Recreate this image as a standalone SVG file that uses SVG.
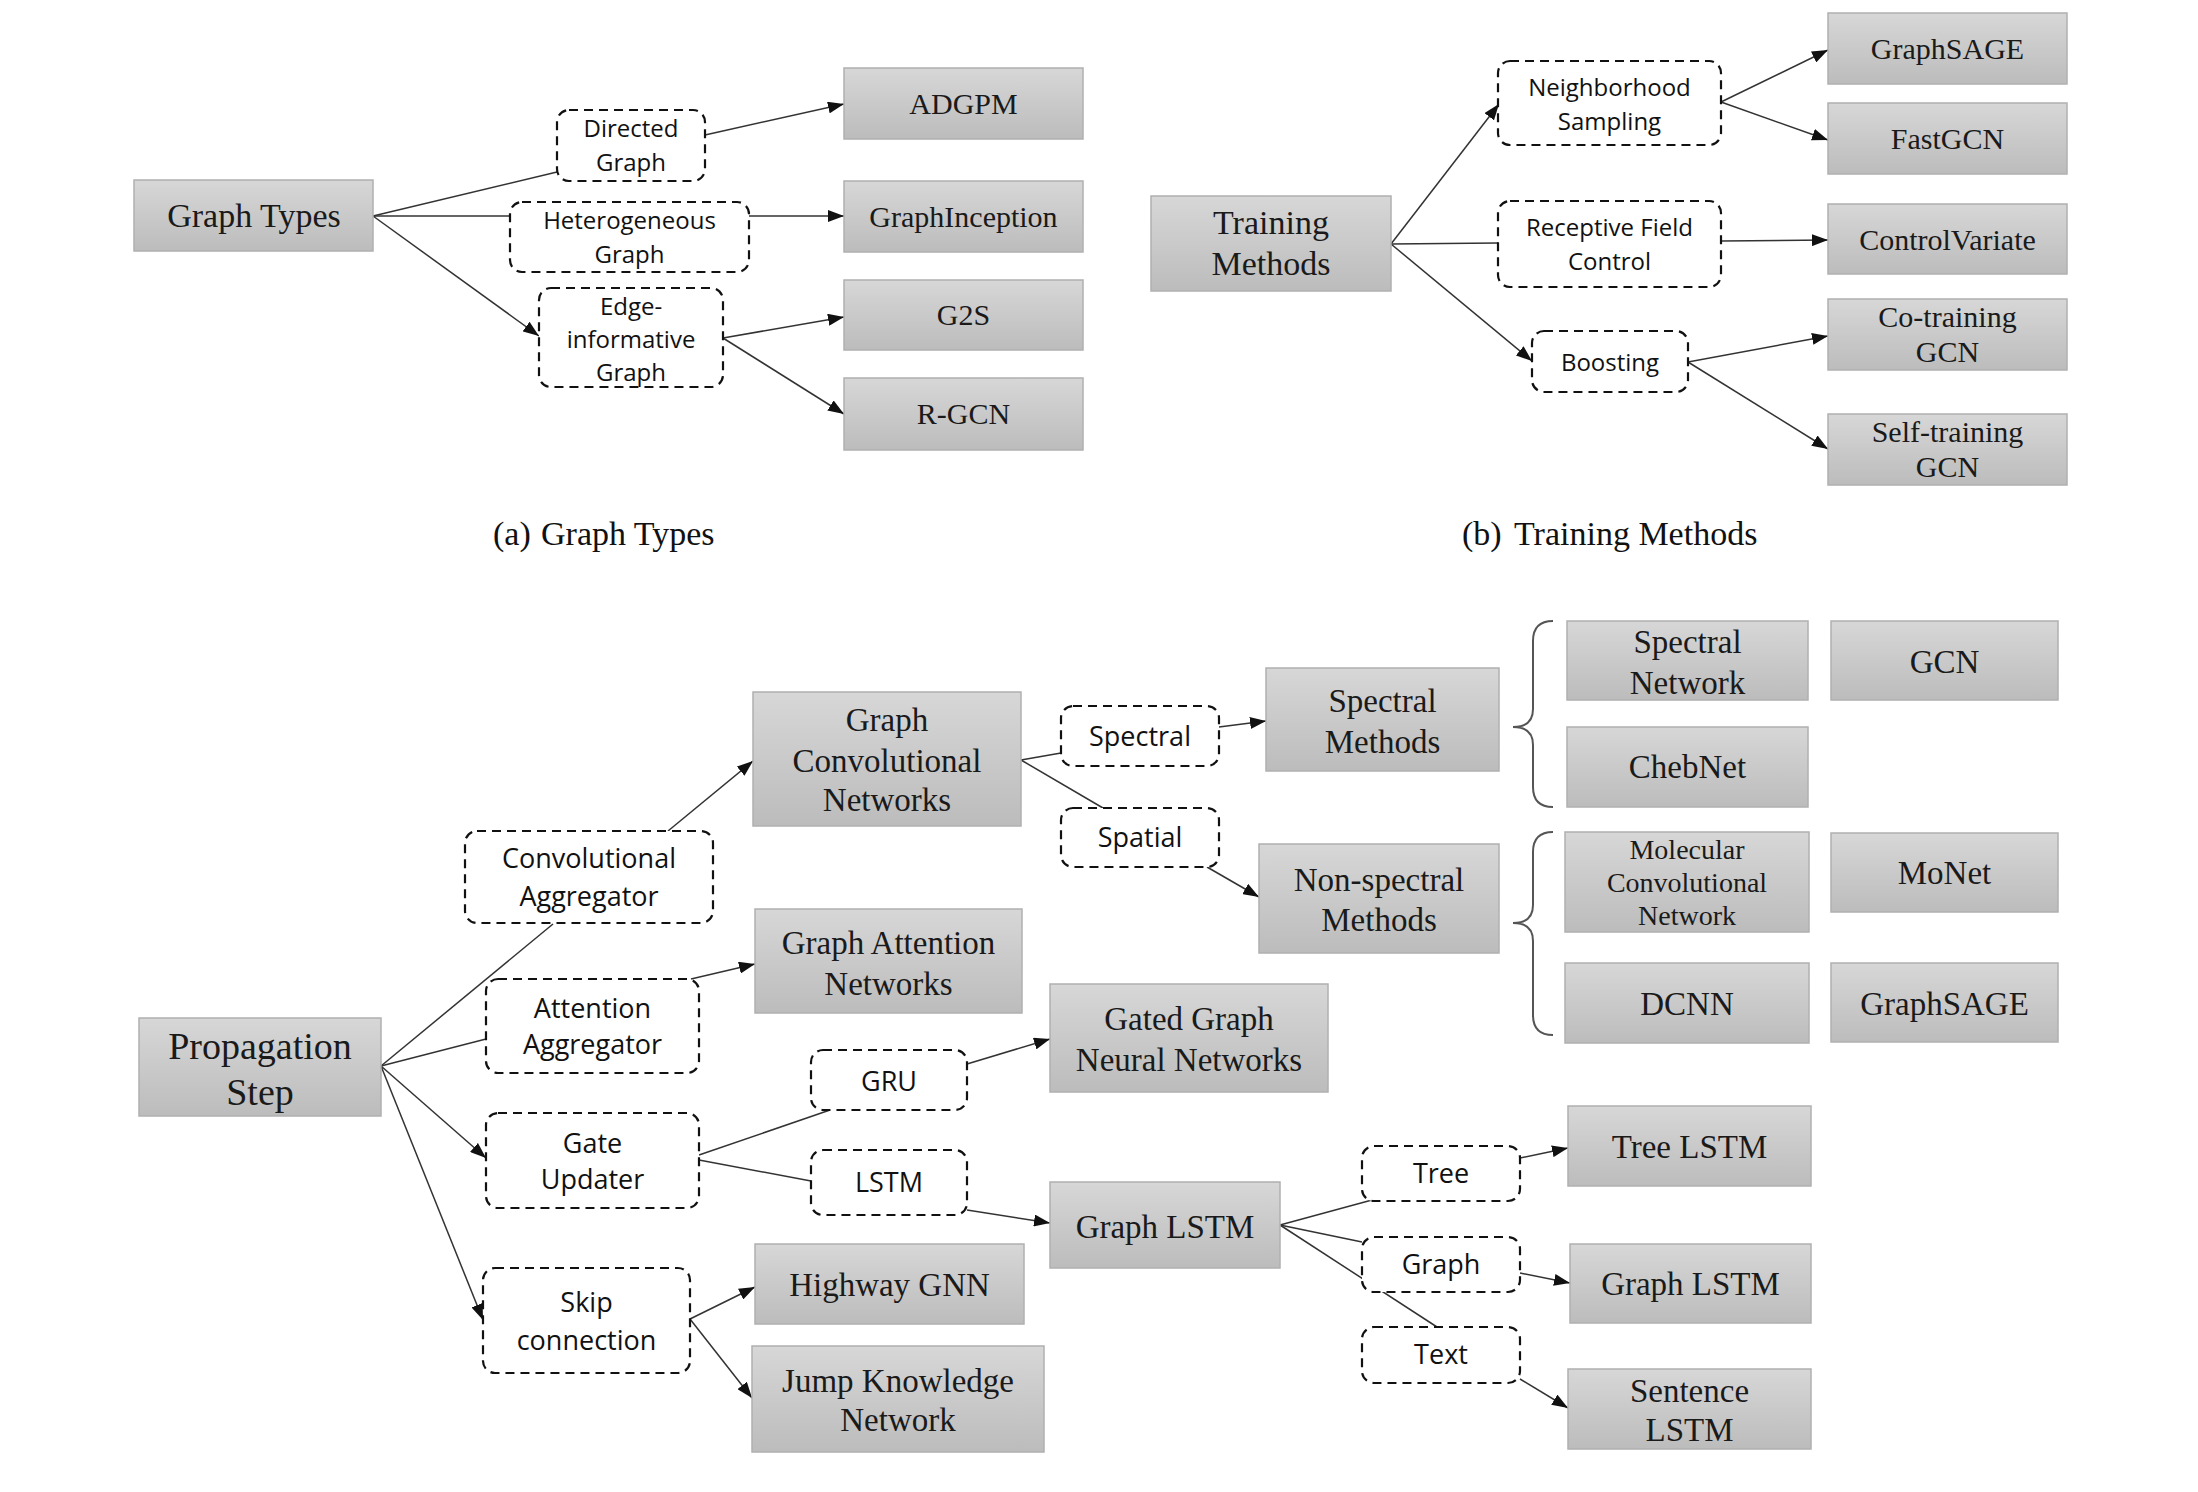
<svg xmlns="http://www.w3.org/2000/svg" width="2198" height="1492" viewBox="0 0 2198 1492">
<defs>
<linearGradient id="gg" x1="0" y1="0" x2="0" y2="1">
<stop offset="0" stop-color="#d7d7d7"/>
<stop offset="1" stop-color="#bcbcbc"/>
</linearGradient>
<marker id="ah" viewBox="0 0 16 12" refX="16" refY="6" markerWidth="16" markerHeight="12" markerUnits="userSpaceOnUse" orient="auto">
<path d="M0,0 L16,6 L0,12 z" fill="#111"/>
</marker>
</defs>
<style>
.g{fill:url(#gg);stroke:#b0b0b0;stroke-width:1.5}
.d{fill:#fff;stroke:#111;stroke-width:2.2;stroke-dasharray:9 6}
.s{font-family:"Liberation Serif","Times New Roman",serif;fill:#1a1a1a;text-anchor:middle}
.t{font-family:"Open Sans","Liberation Sans",sans-serif;fill:#111;text-anchor:middle}
.c{stroke:#333;stroke-width:1.5;fill:none}
.a{stroke:#333;stroke-width:1.5;fill:none;marker-end:url(#ah)}
.br{stroke:#555;stroke-width:2;fill:none}
.cap{font-family:"Liberation Serif","Times New Roman",serif;fill:#111;font-size:34px}
</style>
<rect width="2198" height="1492" fill="#fff"/>

<g id="connectors">
<!-- panel a -->
<line class="c" x1="373" y1="216" x2="557" y2="172"/>
<line class="a" x1="705" y1="135" x2="844" y2="104"/>
<line class="c" x1="373" y1="216" x2="510" y2="216"/>
<line class="a" x1="749" y1="216" x2="844" y2="216"/>
<line class="a" x1="373" y1="216" x2="539" y2="336"/>
<line class="a" x1="723" y1="338" x2="844" y2="317"/>
<line class="a" x1="723" y1="338" x2="844" y2="414"/>
<!-- panel b -->
<line class="a" x1="1391" y1="244" x2="1499" y2="104"/>
<line class="c" x1="1391" y1="244" x2="1498" y2="243"/>
<line class="a" x1="1391" y1="244" x2="1532" y2="361"/>
<line class="a" x1="1721" y1="102" x2="1828" y2="50"/>
<line class="a" x1="1721" y1="102" x2="1828" y2="140"/>
<line class="a" x1="1721" y1="241" x2="1828" y2="240"/>
<line class="a" x1="1688" y1="362" x2="1828" y2="336"/>
<line class="a" x1="1688" y1="362" x2="1828" y2="449"/>
<!-- bottom -->
<line class="c" x1="381" y1="1066" x2="553" y2="924"/>
<line class="a" x1="668" y1="831" x2="753" y2="761"/>
<line class="c" x1="381" y1="1066" x2="486" y2="1039"/>
<line class="a" x1="691" y1="979" x2="755" y2="964"/>
<line class="a" x1="381" y1="1066" x2="486" y2="1158"/>
<line class="a" x1="381" y1="1066" x2="483" y2="1320"/>
<line class="c" x1="699" y1="1155" x2="830" y2="1110"/>
<line class="c" x1="699" y1="1160" x2="811" y2="1181"/>
<line class="a" x1="967" y1="1064" x2="1050" y2="1039"/>
<line class="a" x1="967" y1="1210" x2="1050" y2="1223"/>
<line class="c" x1="1021" y1="760" x2="1061" y2="753"/>
<line class="c" x1="1021" y1="760" x2="1103" y2="808"/>
<line class="a" x1="1219" y1="727" x2="1266" y2="721"/>
<line class="a" x1="1207" y1="867" x2="1259" y2="897"/>
<line class="c" x1="1280" y1="1225" x2="1372" y2="1200"/>
<line class="c" x1="1280" y1="1225" x2="1362" y2="1242"/>
<line class="c" x1="1280" y1="1225" x2="1437" y2="1327"/>
<line class="a" x1="1520" y1="1158" x2="1568" y2="1148"/>
<line class="a" x1="1520" y1="1273" x2="1570" y2="1283"/>
<line class="a" x1="1520" y1="1379" x2="1568" y2="1408"/>
<line class="a" x1="690" y1="1319" x2="755" y2="1287"/>
<line class="a" x1="690" y1="1319" x2="752" y2="1398"/>
<!-- braces -->
<path class="br" d="M1553 621 Q1533 621 1533 641 L1533 709 Q1533 727 1513 727 Q1533 727 1533 745 L1533 787 Q1533 807 1553 807"/>
<path class="br" d="M1553 832 Q1533 832 1533 852 L1533 905 Q1533 923 1513 923 Q1533 923 1533 941 L1533 1015 Q1533 1035 1553 1035"/>
</g>

<!-- panel a nodes -->
<g id="graph-types"><rect class="g" x="134" y="180" width="239" height="71"/><text class="s" font-size="34" x="254" y="227">Graph Types</text></g>
<g id="directed-graph"><rect class="d" x="557" y="110" width="148" height="71" rx="12"/><text class="t" font-size="24" x="631" y="137">Directed</text><text class="t" font-size="24" x="631" y="171">Graph</text></g>
<g id="heterogeneous-graph"><rect class="d" x="510" y="202" width="239" height="70" rx="12"/><text class="t" font-size="24" x="629.5" y="229">Heterogeneous</text><text class="t" font-size="24" x="629.5" y="263">Graph</text></g>
<g id="edge-informative-graph"><rect class="d" x="539" y="288" width="184" height="99" rx="12"/><text class="t" font-size="24" x="631" y="315">Edge-</text><text class="t" font-size="24" x="631" y="348">informative</text><text class="t" font-size="24" x="631" y="381">Graph</text></g>
<g id="adgpm"><rect class="g" x="844" y="68" width="239" height="71"/><text class="s" font-size="30" x="963.5" y="114">ADGPM</text></g>
<g id="graphinception"><rect class="g" x="844" y="181" width="239" height="71"/><text class="s" font-size="30" x="963.5" y="227">GraphInception</text></g>
<g id="g2s"><rect class="g" x="844" y="280" width="239" height="70"/><text class="s" font-size="30" x="963.5" y="325">G2S</text></g>
<g id="r-gcn"><rect class="g" x="844" y="378" width="239" height="72"/><text class="s" font-size="30" x="963.5" y="424">R-GCN</text></g>
<text class="cap" x="493" y="545">(a)<tspan x="541">Graph Types</tspan></text>

<!-- panel b nodes -->
<g id="training-methods"><rect class="g" x="1151" y="196" width="240" height="95"/><text class="s" font-size="34" x="1271" y="234">Training</text><text class="s" font-size="34" x="1271" y="275">Methods</text></g>
<g id="neighborhood-sampling"><rect class="d" x="1498" y="61" width="223" height="84" rx="12"/><text class="t" font-size="24" x="1609.5" y="96">Neighborhood</text><text class="t" font-size="24" x="1609.5" y="130">Sampling</text></g>
<g id="receptive-field-control"><rect class="d" x="1498" y="201" width="223" height="86" rx="12"/><text class="t" font-size="24" x="1609.5" y="236">Receptive Field</text><text class="t" font-size="24" x="1609.5" y="270">Control</text></g>
<g id="boosting"><rect class="d" x="1532" y="331" width="156" height="61" rx="12"/><text class="t" font-size="24" x="1610" y="371">Boosting</text></g>
<g id="graphsage-top"><rect class="g" x="1828" y="13" width="239" height="71"/><text class="s" font-size="30" x="1947.5" y="59">GraphSAGE</text></g>
<g id="fastgcn"><rect class="g" x="1828" y="103" width="239" height="71"/><text class="s" font-size="30" x="1947.5" y="149">FastGCN</text></g>
<g id="controlvariate"><rect class="g" x="1828" y="204" width="239" height="70"/><text class="s" font-size="30" x="1947.5" y="250">ControlVariate</text></g>
<g id="co-training-gcn"><rect class="g" x="1828" y="299" width="239" height="71"/><text class="s" font-size="30" x="1947.5" y="327">Co-training</text><text class="s" font-size="30" x="1947.5" y="362">GCN</text></g>
<g id="self-training-gcn"><rect class="g" x="1828" y="414" width="239" height="71"/><text class="s" font-size="30" x="1947.5" y="442">Self-training</text><text class="s" font-size="30" x="1947.5" y="477">GCN</text></g>
<text class="cap" x="1462" y="545">(b)<tspan x="1514">Training Methods</tspan></text>

<!-- bottom nodes -->
<g id="propagation-step"><rect class="g" x="139" y="1018" width="242" height="98"/><text class="s" font-size="38" x="260" y="1059">Propagation</text><text class="s" font-size="38" x="260" y="1105">Step</text></g>
<g id="convolutional-aggregator"><rect class="d" x="465" y="831" width="248" height="92" rx="12"/><text class="t" font-size="27" x="589" y="868">Convolutional</text><text class="t" font-size="27" x="589" y="906">Aggregator</text></g>
<g id="attention-aggregator"><rect class="d" x="486" y="979" width="213" height="94" rx="12"/><text class="t" font-size="27" x="592.5" y="1018">Attention</text><text class="t" font-size="27" x="592.5" y="1054">Aggregator</text></g>
<g id="gate-updater"><rect class="d" x="486" y="1113" width="213" height="95" rx="12"/><text class="t" font-size="27" x="592.5" y="1153">Gate</text><text class="t" font-size="27" x="592.5" y="1189">Updater</text></g>
<g id="skip-connection"><rect class="d" x="483" y="1268" width="207" height="105" rx="12"/><text class="t" font-size="27" x="586.5" y="1312">Skip</text><text class="t" font-size="27" x="586.5" y="1350">connection</text></g>
<g id="graph-convolutional-networks"><rect class="g" x="753" y="692" width="268" height="134"/><text class="s" font-size="33" x="887" y="731">Graph</text><text class="s" font-size="33" x="887" y="772">Convolutional</text><text class="s" font-size="33" x="887" y="811">Networks</text></g>
<g id="graph-attention-networks"><rect class="g" x="755" y="909" width="267" height="104"/><text class="s" font-size="33" x="888.5" y="954">Graph Attention</text><text class="s" font-size="33" x="888.5" y="995">Networks</text></g>
<g id="spectral"><rect class="d" x="1061" y="706" width="158" height="60" rx="12"/><text class="t" font-size="27" x="1140" y="746">Spectral</text></g>
<g id="spatial"><rect class="d" x="1061" y="808" width="158" height="59" rx="12"/><text class="t" font-size="27" x="1140" y="847">Spatial</text></g>
<g id="spectral-methods"><rect class="g" x="1266" y="668" width="233" height="103"/><text class="s" font-size="33" x="1382.5" y="712">Spectral</text><text class="s" font-size="33" x="1382.5" y="753">Methods</text></g>
<g id="non-spectral-methods"><rect class="g" x="1259" y="844" width="240" height="109"/><text class="s" font-size="33" x="1379" y="891">Non-spectral</text><text class="s" font-size="33" x="1379" y="931">Methods</text></g>
<g id="gated-graph-neural-networks"><rect class="g" x="1050" y="984" width="278" height="108"/><text class="s" font-size="33" x="1189" y="1030">Gated Graph</text><text class="s" font-size="33" x="1189" y="1071">Neural Networks</text></g>
<g id="gru"><rect class="d" x="811" y="1050" width="156" height="60" rx="12"/><text class="t" font-size="27" x="889" y="1091">GRU</text></g>
<g id="lstm"><rect class="d" x="811" y="1150" width="156" height="65" rx="12"/><text class="t" font-size="27" x="889" y="1192">LSTM</text></g>
<g id="graph-lstm-mid"><rect class="g" x="1050" y="1182" width="230" height="86"/><text class="s" font-size="33" x="1165" y="1238">Graph LSTM</text></g>
<g id="highway-gnn"><rect class="g" x="755" y="1244" width="269" height="80"/><text class="s" font-size="33" x="889.5" y="1296">Highway GNN</text></g>
<g id="jump-knowledge-network"><rect class="g" x="752" y="1346" width="292" height="106"/><text class="s" font-size="33" x="898" y="1392">Jump Knowledge</text><text class="s" font-size="33" x="898" y="1431">Network</text></g>
<g id="tree"><rect class="d" x="1362" y="1146" width="158" height="55" rx="12"/><text class="t" font-size="27" x="1441" y="1183">Tree</text></g>
<g id="graph"><rect class="d" x="1362" y="1237" width="158" height="55" rx="12"/><text class="t" font-size="27" x="1441" y="1274">Graph</text></g>
<g id="text"><rect class="d" x="1362" y="1327" width="158" height="56" rx="12"/><text class="t" font-size="27" x="1441" y="1364">Text</text></g>
<g id="tree-lstm"><rect class="g" x="1568" y="1106" width="243" height="80"/><text class="s" font-size="33" x="1689.5" y="1158">Tree LSTM</text></g>
<g id="graph-lstm-right"><rect class="g" x="1570" y="1244" width="241" height="79"/><text class="s" font-size="33" x="1690.5" y="1295">Graph LSTM</text></g>
<g id="sentence-lstm"><rect class="g" x="1568" y="1369" width="243" height="80"/><text class="s" font-size="33" x="1689.5" y="1402">Sentence</text><text class="s" font-size="33" x="1689.5" y="1441">LSTM</text></g>
<g id="spectral-network"><rect class="g" x="1567" y="621" width="241" height="79"/><text class="s" font-size="33" x="1687.5" y="653">Spectral</text><text class="s" font-size="33" x="1687.5" y="694">Network</text></g>
<g id="gcn"><rect class="g" x="1831" y="621" width="227" height="79"/><text class="s" font-size="33" x="1944.5" y="673">GCN</text></g>
<g id="chebnet"><rect class="g" x="1567" y="727" width="241" height="80"/><text class="s" font-size="33" x="1687.5" y="778">ChebNet</text></g>
<g id="molecular-convolutional-network"><rect class="g" x="1565" y="832" width="244" height="100"/><text class="s" font-size="28" x="1687" y="859">Molecular</text><text class="s" font-size="28" x="1687" y="892">Convolutional</text><text class="s" font-size="28" x="1687" y="925">Network</text></g>
<g id="monet"><rect class="g" x="1831" y="833" width="227" height="79"/><text class="s" font-size="33" x="1944.5" y="884">MoNet</text></g>
<g id="dcnn"><rect class="g" x="1565" y="963" width="244" height="80"/><text class="s" font-size="33" x="1687" y="1015">DCNN</text></g>
<g id="graphsage-bottom"><rect class="g" x="1831" y="963" width="227" height="79"/><text class="s" font-size="33" x="1944.5" y="1015">GraphSAGE</text></g>
</svg>
